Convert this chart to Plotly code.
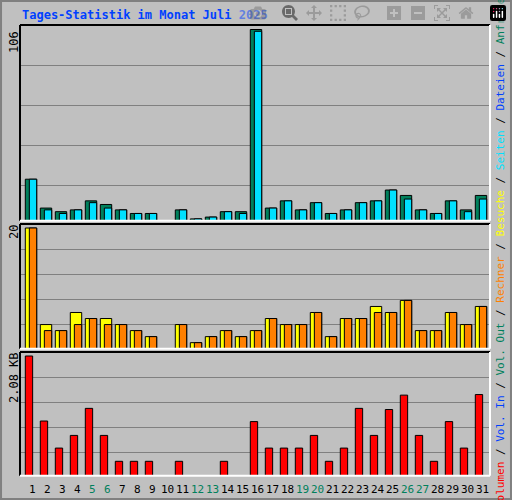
import plotly.graph_objects as go

days = list(range(1, 32))
hits  = [23,7,5,6,11,9,6,4,4,0,6,1,2,5,5,106,7,11,6,10,4,6,10,11,17,14,6,4,11,6,14]
files = [23,6,4,6,10,7,6,4,4,0,6,1,2,5,4,105,7,11,6,10,4,6,10,11,17,12,6,4,11,5,12]
visits = [20,4,3,6,5,5,4,3,2,0,4,1,2,3,2,3,5,4,4,6,2,5,5,7,6,8,3,3,6,4,7]
hosts  = [20,3,3,4,5,4,4,3,2,0,4,1,2,3,2,3,5,4,4,6,2,5,5,6,6,8,3,3,6,4,7]
volume = [2.08,0.95,0.48,0.70,1.17,0.70,0.25,0.25,0.25,0,0.25,0,0,0.25,0,0.94,0.48,0.48,0.48,0.70,0.25,0.48,1.17,0.70,1.15,1.40,0.70,0.25,0.94,0.48,1.41]
weekend = [5,6,12,13,19,20,26,27]
title = "Tages-Statistik im Monat Juli 2025"

W, H = 512, 500
FONT = "DejaVu Sans Mono"
BG = "#C0C0C0"
XL, XR = 20, 490
panels = [  # (top px, bottom px, max value, max-label px, grid step px)
    (25, 220.7, 106, 29.5, 40),
    (224, 348.7, 20, 228, 25),
    (352, 475.7, 2.08, 356, 25),
]

fig = go.Figure()
xr = [0.267, 0.267 + (XR - XL) / 15]

def mk(xa, ya, y, color, width, offset):
    return go.Bar(x=days, y=y, width=width, offset=offset, xaxis=xa, yaxis=ya,
                  marker=dict(color=color, line=dict(color="black", width=1)),
                  hoverinfo="skip", showlegend=False)

fig.add_trace(mk("x", "y", hits, "#00805C", 0.76, -0.38))
fig.add_trace(mk("x", "y", files, "#00E0FF", 0.49, -0.11))
fig.add_trace(mk("x2", "y2", visits, "#FFFF00", 0.76, -0.38))
fig.add_trace(mk("x2", "y2", hosts, "#FF8000", 0.49, -0.11))
fig.add_trace(mk("x3", "y3", volume, "#FF0000", 0.49, -0.38))

layout = dict(width=W, height=H, margin=dict(l=0, r=0, t=0, b=0),
              paper_bgcolor=BG, plot_bgcolor=BG, barmode="overlay",
              font=dict(family=FONT, color="black", size=11))
shapes = []
for i, (top, bot, vmax, ptop, step) in enumerate(panels):
    s = "" if i == 0 else str(i + 1)
    R = vmax * (bot - top) / (bot - ptop)
    ppu = (bot - ptop) / vmax
    grid = []
    k = 1
    while top + step * k < bot - 5:
        grid.append((bot - (top + step * k)) / ppu)
        k += 1
    layout["xaxis" + s] = dict(domain=[XL / W, XR / W], range=xr, showticklabels=False,
                               showgrid=False, zeroline=False, anchor="y" + s, fixedrange=True)
    layout["yaxis" + s] = dict(domain=[1 - bot / H, 1 - top / H], range=[0, R],
                               tickvals=grid, showticklabels=False, showgrid=True,
                               gridcolor="#808080", gridwidth=1, zeroline=False,
                               anchor="x" + s, layer="below traces")
    shapes += [
        dict(type="line", xref="paper", yref="paper", x0=XL / W, x1=XR / W, y0=1 - top / H, y1=1 - top / H, line=dict(color="black", width=2)),
        dict(type="line", xref="paper", yref="paper", x0=XL / W, x1=XL / W, y0=1 - top / H, y1=1 - bot / H, line=dict(color="black", width=2)),
        dict(type="line", xref="paper", yref="paper", x0=XL / W, x1=XR / W, y0=1 - bot / H, y1=1 - bot / H, line=dict(color="white", width=2)),
        dict(type="line", xref="paper", yref="paper", x0=XR / W, x1=XR / W, y0=1 - top / H, y1=1 - bot / H, line=dict(color="white", width=2)),
    ]
shapes.append(dict(type="rect", xref="paper", yref="paper", x0=0.002, x1=0.998, y0=0.002, y1=0.998,
                   line=dict(color="#808080", width=2)))
layout["shapes"] = shapes
fig.update_layout(**layout)

ann = []
ann.append(dict(text="<b>" + title + "</b>", x=20 / W, y=1 - 15 / H, xref="paper", yref="paper",
                xanchor="left", yanchor="middle", showarrow=False, font=dict(color="#0040FF", size=12, family=FONT)))
for lab, yc in [("106", 42), ("20", 232), ("2.08 KB", 378)]:
    ann.append(dict(text=lab, x=14 / W, y=1 - yc / H, xref="paper", yref="paper", textangle=-90,
                    showarrow=False, xanchor="center", yanchor="middle", font=dict(size=12)))
for d in days:
    ann.append(dict(text=str(d), x=d + 0.1, y=1 - 489 / H, xref="x3", yref="paper", showarrow=False,
                    xanchor="center", yanchor="middle",
                    font=dict(size=11, color="#00805C" if d in weekend else "black")))
sl = " / "
legend = ("<span style='color:#FF0000'>Volumen</span>" + sl +
          "<span style='color:#0040FF'>Vol. In</span>" + sl +
          "<span style='color:#00805C'>Vol. Out</span>" + sl +
          "<span style='color:#FF8000'>Rechner</span>" + sl +
          "<span style='color:#FFFF00'>Besuche</span>" + sl +
          "<span style='color:#00E0FF'>Seiten</span>" + sl +
          "<span style='color:#0040FF'>Dateien</span>" + sl +
          "<span style='color:#00805C'>Anfragen</span>")
ann.append(dict(text=legend, x=500 / W, y=1 - 250 / H, xref="paper", yref="paper", textangle=-90,
                showarrow=False, xanchor="center", yanchor="middle", font=dict(size=11)))
fig.update_layout(annotations=ann)
fig.write_html("out.html", post_script="document.body.style.margin='0';document.body.style.overflow='hidden';")
